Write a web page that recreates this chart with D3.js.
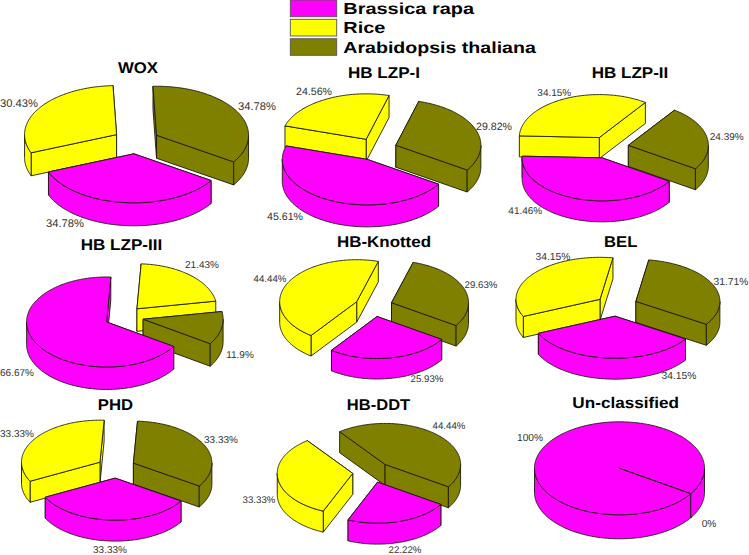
<!DOCTYPE html>
<html>
<head>
<meta charset="utf-8">
<script src="https://cdn.jsdelivr.net/npm/d3@7/dist/d3.min.js"></script>
<style>
html,body{margin:0;padding:0;background:#fff}
svg{display:block}
text{font-family:"Liberation Sans",Arial,sans-serif;text-rendering:geometricPrecision}
</style>
</head>
<body>
<svg id="chart" width="749" height="555"></svg>
<script>
// ---- data ----
const categories = ["WOX","HB LZP-I","HB LZP-II","HB LZP-III","HB-Knotted","BEL","PHD","HB-DDT","Un-classified"];
const seriesNames = ["Brassica rapa","Rice","Arabidopsis thaliana"];
const brassicaRapa = [34.78,45.61,41.46,66.67,25.93,34.15,33.33,22.22,100];
const rice         = [30.43,24.56,34.15,21.43,44.44,34.15,33.33,33.33,0];
const arabidopsis  = [34.78,29.82,24.39,11.9,29.63,31.71,33.33,44.44,0];

// ---- style ----
const seriesColors = ["#ff00ff","#ffff00","#808000"];
const edgeColor = "#1c1c0c";

// ---- layout: one row per panel, in the order of categories ----
const pieCentres = [[136.2,141.4],[376.2,149.2],[608.3,147.4],[124,317],[373.7,306.3],[616.7,305.7],[116.2,467.8],[371.9,472.1],[619.5,468.3]];
const pieRadii   = [[92,49],[85,45.5],[80,43],[80,45],[77,42],[84,42],[78.5,42],[75.5,41],[85,46.5]];
const pieDepths  = [23,22,21,22.5,20.5,21,21,21,24];
const pieExplode = [23.4,21,20.4,19.5,19,21,19.3,19.3,0];
const titlePos   = [[138,73,40],[384,78,72],[630,78,76.6],[121.5,250,81.6],[384,247,94],[620.7,247,33.3],[115.5,410,35.3],[378.5,410,63.3],[625.7,408,106.7]];
const labelSize  = [11.2,10.6,10,10,9.7,10.3,10,9.7,10.2];
const labelPos   = [
  [[65,223],[19,103],[257,106]],
  [[285,216],[314,91],[494,126]],
  [[525.3,210],[554.3,92],[726.7,136]],
  [[17,372],[202,264],[240,354]],
  [[427,379],[270,279],[481,285]],
  [[679,375],[553,256],[731,281]],
  [[110,549.3],[17,433],[221,439]],
  [[405,549.3],[259,500],[449,426]],
  [[530,437],null,[709,523]]
];
const legendRows = [[0,16.7,14,130.7],[19.3,36,33.3,42],[38.7,55.3,52.7,192.5]];

const svg = d3.select("#chart");
const rad = d3.scaleLinear().domain([0,360]).range([0,2*Math.PI]);
const deg = rad.invert;
const line = d3.line();
const pie = d3.pie().sort(null).startAngle(rad(123)).endAngle(rad(483));
const drawOrder = [1,2,0];

function arcSamples(a0,a1){
  const n = Math.max(1,Math.ceil(Math.abs(deg(a1)-deg(a0))));
  return d3.range(n+1).map(i=>a0+(a1-a0)*i/n);
}

categories.forEach((cat,p)=>{
  const [cx,cy]=pieCentres[p], [rx,ry]=pieRadii[p], depth=pieDepths[p], ex=pieExplode[p];
  const values=[brassicaRapa[p],rice[p],arabidopsis[p]];
  const slices=pie(values);
  const g=svg.append("g").attr("class","pie");

  drawOrder.forEach(s=>{
    const d=slices[s];
    const mid=(d.startAngle+d.endAngle)/2;
    const ox=cx+ex*Math.sin(mid), oy=cy-ex*(ry/rx)*Math.cos(mid);
    const pt=(a,z=0)=>[ox+rx*Math.sin(a), oy-ry*Math.cos(a)+z];
    const apex=[ox,oy], apexLow=[ox,oy+depth];
    const paint=(pts,close=true)=>g.append("path")
      .attr("d",line(pts)+(close?"Z":""))
      .attr("fill",seriesColors[s])
      .attr("stroke",edgeColor).attr("stroke-width",0.9).attr("stroke-linejoin","round");

    // radial walls, the one that reaches further back first
    [d.startAngle,d.endAngle]
      .sort((a,b)=>pt(a)[1]-pt(b)[1])
      .forEach(a=>paint([apex,pt(a),pt(a,depth),apexLow]));
    // front part of the curved wall
    [0,1].forEach(turn=>{
      const lo=Math.max(d.startAngle,rad(90+360*turn));
      const hi=Math.min(d.endAngle,rad(270+360*turn));
      if(hi>lo){
        const top=arcSamples(lo,hi).map(a=>pt(a));
        const low=arcSamples(hi,lo).map(a=>pt(a,depth));
        paint(top.concat(low));
      }
    });
    // top face
    paint([apex].concat(arcSamples(d.startAngle,d.endAngle).map(a=>pt(a))));
  });

  // value labels
  values.forEach((v,s)=>{
    const pos=labelPos[p][s];
    if(!pos) return;
    svg.append("text").attr("x",pos[0]).attr("y",pos[1]+labelSize[p]*0.36)
      .attr("text-anchor","middle").attr("font-size",labelSize[p]).attr("fill","#333")
      .text(v+"%");
  });

  // title
  const [tx,ty,tw]=titlePos[p];
  svg.append("text").attr("x",tx-tw/2).attr("y",ty)
    .attr("font-size",15.5).attr("font-weight","bold").attr("fill","#000")
    .attr("textLength",tw).attr("lengthAdjust","spacingAndGlyphs")
    .text(cat);
});

// legend
seriesNames.forEach((name,i)=>{
  const [y0,y1,base,w]=legendRows[i];
  svg.append("rect").attr("x",290.3).attr("y",y0).attr("width",46.4).attr("height",y1-y0)
    .attr("fill",seriesColors[i]).attr("stroke","#555").attr("stroke-width",0.9);
  svg.append("text").attr("x",343.3).attr("y",base)
    .attr("font-size",16).attr("font-weight","bold").attr("fill","#000")
    .attr("textLength",w).attr("lengthAdjust","spacingAndGlyphs")
    .text(name);
});
</script>
</body>
</html>
